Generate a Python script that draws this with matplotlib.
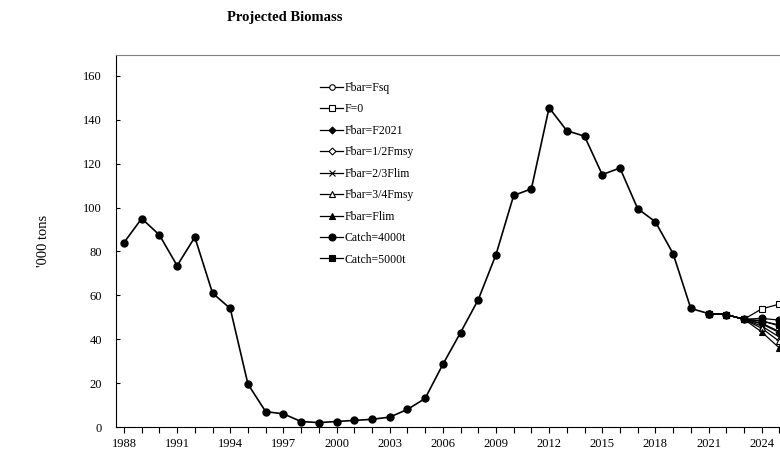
import numpy as np
import matplotlib
matplotlib.use("Agg")
import matplotlib.pyplot as plt

plt.rcParams['font.family'] = ['Liberation Serif', 'DejaVu Serif']

# historical biomass ('000 t)
hist_years = list(range(1988, 2022))
hist_biomass = [84, 95, 87.5, 73.5, 86.5, 61, 54, 19.5, 7, 6, 2.5, 2, 2.5, 3,
                3.5, 4.5, 8, 13, 28.5, 43, 58, 78.5, 105.5, 108.5, 145.5, 135,
                132.5, 115, 118, 99.5, 93.5, 79, 54, 51.7]

# projection scenarios 2021-2025
proj_years = [2021, 2022, 2023, 2024, 2025]
scen_labels = ["Fbar=Fsq", "F=0", "Fbar=F2021", "Fbar=1/2Fmsy", "Fbar=2/3Flim",
               "Fbar=3/4Fmsy", "Fbar=Flim", "Catch=4000t", "Catch=5000t"]
scen_values = [
    [51.7, 51.2, 49.1, 47.0, 43.0],
    [51.7, 51.2, 49.1, 53.8, 56.0],
    [51.7, 51.2, 49.1, 47.3, 43.5],
    [51.7, 51.2, 49.1, 48.5, 46.0],
    [51.7, 51.2, 49.1, 46.0, 41.0],
    [51.7, 51.2, 49.1, 45.0, 39.0],
    [51.7, 51.2, 49.1, 43.3, 36.0],
    [51.7, 51.2, 49.1, 49.5, 48.7],
    [51.7, 51.2, 49.1, 48.2, 46.5],
]
scen_markers = [("o", "white"), ("s", "white"), ("D", "black"), ("D", "white"),
                ("x", "black"), ("^", "white"), ("^", "black"), ("o", "black"),
                ("s", "black")]
scen_sizes = [4, 5, 3.5, 3.5, 5, 4.5, 4.5, 5, 5]

fig = plt.figure(figsize=(7.8, 4.54), dpi=100)
ax = fig.add_axes([116 / 780, 27 / 454, 674 / 780, 372 / 454])

ax.plot(hist_years, hist_biomass, color="black", lw=1.2, marker="o",
        markersize=5, markerfacecolor="black", zorder=3)

for lab, vals, (mk, fc), ms in zip(scen_labels, scen_values, scen_markers, scen_sizes):
    ax.plot(proj_years, vals, color="black", lw=0.9, marker=mk, markersize=ms,
            markerfacecolor=fc, markeredgecolor="black", markeredgewidth=0.8,
            label=lab, zorder=4)

ax.set_xlim(1987.55, 2025.6)
ax.set_ylim(0, 169.5)
ax.set_xticks(range(1988, 2026, 3))
ax.set_xticks(range(1988, 2026), minor=True)
ax.set_yticks(range(0, 161, 20))
ax.tick_params(axis="x", which="both", direction="out", length=4, width=0.8,
               labelsize=9, pad=4)
ax.tick_params(axis="y", direction="in", length=3, width=0.8,
               labelsize=9, pad=10)
ax.spines["top"].set_color("#808080")
ax.spines["right"].set_visible(False)

ax.set_ylabel("'000 tons", fontsize=10.5, labelpad=24)
fig.text(227 / 780, 1 - 21 / 454, "Projected Biomass", ha="left", va="baseline",
         fontsize=10.5, fontweight="bold")

ax.legend(loc="upper left", bbox_to_anchor=(320 / 780, 1 - 82 / 454),
          bbox_transform=fig.transFigure, frameon=False, fontsize=8.5,
          handlelength=1.95, handletextpad=0.15, labelspacing=0.8,
          borderpad=0, borderaxespad=0)

fig.savefig("out.png", dpi=100)
